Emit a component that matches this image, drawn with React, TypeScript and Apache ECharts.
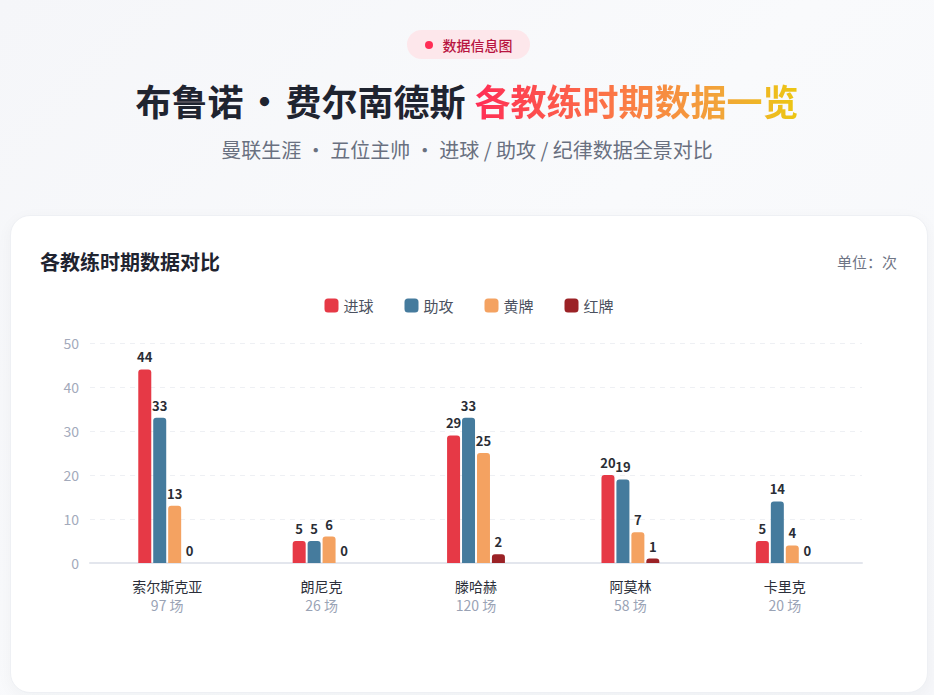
import React, { useEffect, useRef } from "react";
import * as echarts from "echarts";

const coaches = ["索尔斯克亚", "朗尼克", "滕哈赫", "阿莫林", "卡里克"];
const matches = [97, 26, 120, 58, 20];
const goals = [44, 5, 29, 20, 5];
const assists = [33, 5, 33, 19, 14];
const yellows = [13, 6, 25, 7, 4];
const reds = [0, 0, 2, 1, 0];
const seriesNames = ["进球", "助攻", "黄牌", "红牌"];
const seriesColors = ["#e63946", "#457b9d", "#f4a261", "#9b2226"];
const yTicks = { min: 0, max: 50, interval: 10 };

const FONT = '"Noto Sans CJK SC", "Noto Sans", sans-serif';

if (typeof document !== "undefined") {
  document.body.style.margin = "0";
}

export default function App() {
  const ref = useRef<HTMLDivElement>(null);
  useEffect(() => {
    if (!ref.current) return;
    const chart = echarts.init(ref.current, undefined, { renderer: "svg" });
    const values = [goals, assists, yellows, reds];
    chart.setOption({
      animation: false,
      textStyle: { fontFamily: FONT },
      legend: {
        top: 8,
        left: "center",
        icon: "roundRect",
        itemWidth: 14,
        itemHeight: 14,
        itemGap: 31,
        textStyle: { fontSize: 15, color: "#4b5160", fontFamily: FONT },
        data: seriesNames,
      },
      grid: { left: 80, right: 66, top: 58, bottom: 122, containLabel: false },
      xAxis: {
        type: "category",
        data: coaches,
        axisTick: { show: false },
        axisLine: { lineStyle: { color: "#e3e6ed", width: 2 } },
        axisLabel: {
          margin: 13,
          formatter: (v: string, i: number) => `{n|${v}}\n{s|${matches[i]} 场}`,
          rich: {
            n: { fontSize: 14, color: "#2b2f3a", lineHeight: 19, fontFamily: FONT },
            s: { fontSize: 14, color: "#9aa3b5", lineHeight: 19, fontFamily: FONT },
          },
        },
      },
      yAxis: {
        type: "value",
        min: yTicks.min,
        max: yTicks.max,
        interval: yTicks.interval,
        axisLine: { show: false },
        axisTick: { show: false },
        axisLabel: { color: "#a3aabb", fontSize: 14, margin: 11, fontFamily: FONT },
        splitLine: { lineStyle: { color: "#eef0f4", type: [5, 5] } },
      },
      series: seriesNames.map((name, k) => ({
        name,
        type: "bar",
        data: values[k],
        barWidth: 13,
        barGap: "15%",
        itemStyle: { color: seriesColors[k], borderRadius: [3, 3, 0, 0] },
        label: {
          show: true,
          position: "top",
          distance: 6,
          color: "#2a2d35",
          fontWeight: "bold",
          fontSize: 13,
          fontFamily: FONT,
        },
      })),
    });
    return () => chart.dispose();
  }, []);

  return (
    <div
      style={{
        position: "relative",
        width: 934,
        height: 695,
        overflow: "hidden",
        fontFamily: FONT,
        background: "linear-gradient(135deg, #f5f6f9 0%, #f9fafc 50%, #f6f7fa 100%)",
      }}
    >
      <div
        style={{
          position: "absolute",
          left: 407,
          top: 30,
          width: 123,
          height: 29,
          borderRadius: 15,
          background: "#fde7eb",
          display: "flex",
          alignItems: "center",
          justifyContent: "center",
          fontSize: 14,
          fontWeight: 500,
          color: "#b8143f",
        }}
      >
        <span
          style={{
            display: "inline-block",
            width: 8,
            height: 8,
            borderRadius: 4,
            background: "#ff2d55",
            marginRight: 10,
          }}
        />
        数据信息图
      </div>
      <div
        style={{
          position: "absolute",
          left: 0,
          top: 74,
          width: 934,
          textAlign: "center",
          fontSize: 36,
          fontWeight: 700,
          lineHeight: "52px",
          color: "#1f2430",
          whiteSpace: "nowrap",
        }}
      >
        布鲁诺
        <span style={{ display: "inline-block", width: 42, textAlign: "center" }}>•</span>
        费尔南德斯
        <span
          style={{
            marginLeft: 9,
            background: "linear-gradient(90deg, #ff2d55 0%, #fb7a45 45%, #f2a43a 75%, #ecc712 100%)",
            WebkitBackgroundClip: "text",
            backgroundClip: "text",
            color: "transparent",
          }}
        >
          各教练时期数据一览
        </span>
      </div>
      <div
        style={{
          position: "absolute",
          left: 0,
          top: 136,
          width: 934,
          textAlign: "center",
          fontSize: 20,
          lineHeight: "28px",
          color: "#697080",
          whiteSpace: "pre",
        }}
      >
        曼联生涯 · 五位主帅 · 进球 / 助攻 / 纪律数据全景对比
      </div>
      <div
        style={{
          position: "absolute",
          left: 10,
          top: 215,
          width: 918,
          height: 478,
          boxSizing: "border-box",
          borderRadius: 20,
          background: "#ffffff",
          border: "1px solid #eef0f4",
          boxShadow: "0 4px 16px rgba(30,40,60,0.04)",
        }}
      >
        <div
          style={{
            position: "absolute",
            left: 29,
            top: 32,
            fontSize: 20,
            fontWeight: 700,
            color: "#1f2430",
            lineHeight: "28px",
          }}
        >
          各教练时期数据对比
        </div>
        <div
          style={{
            position: "absolute",
            right: 30,
            top: 35,
            fontSize: 15,
            color: "#6f7585",
            lineHeight: "22px",
          }}
        >
          单位：次
        </div>
        <div
          ref={ref}
          style={{ position: "absolute", left: -1, top: 69, width: 918, height: 400 }}
        />
      </div>
    </div>
  );
}
